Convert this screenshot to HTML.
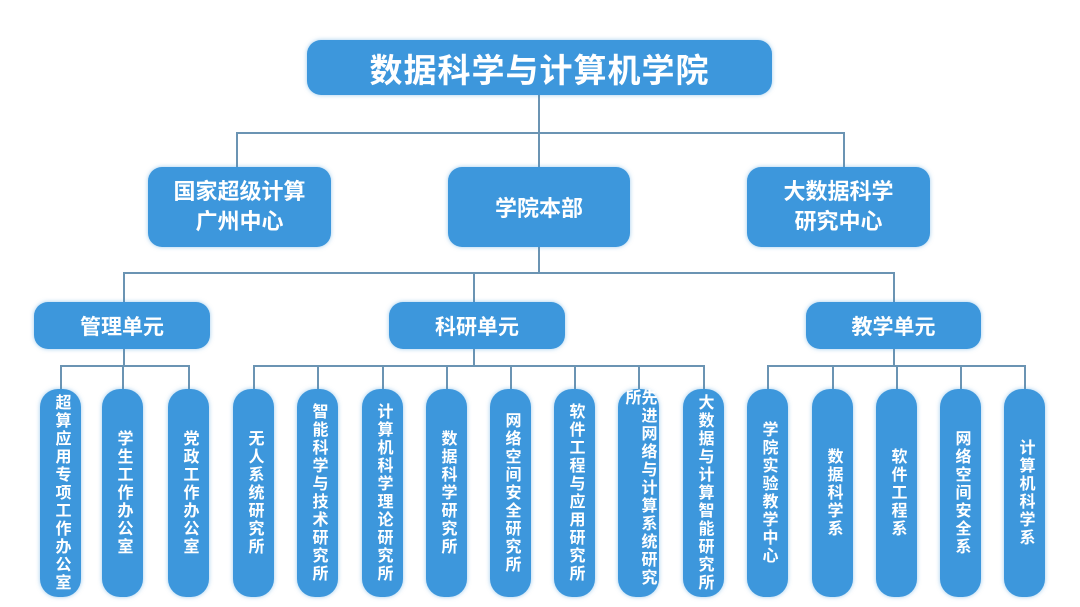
<!DOCTYPE html>
<html><head><meta charset="utf-8"><style>
body{margin:0;width:1080px;height:607px;background:#fff;position:relative;overflow:hidden;font-family:"Liberation Sans","Noto Sans CJK SC",sans-serif;}
.b{position:absolute;background:#3d97dc;color:#fff;font-weight:bold;display:flex;align-items:center;justify-content:center;text-align:center;border-radius:14px;box-shadow:0 0 4px rgba(61,151,220,.5);}
.p{position:absolute;top:389px;height:208px;width:41px;background:#3d97dc;color:#fff;font-weight:bold;border-radius:18px;display:flex;align-items:center;justify-content:center;box-shadow:0 0 4px rgba(61,151,220,.5);}
.p span{writing-mode:vertical-rl;text-orientation:upright;font-size:16px;letter-spacing:2px;line-height:1;}
.l{position:absolute;background:#6b94b3;}
</style></head><body>
<div class="l" style="left:538px;top:95px;width:2px;height:72px"></div>
<div class="l" style="left:236px;top:132px;width:609px;height:2px"></div>
<div class="l" style="left:236px;top:132px;width:2px;height:35px"></div>
<div class="l" style="left:843px;top:132px;width:2px;height:35px"></div>
<div class="l" style="left:538px;top:247px;width:2px;height:27px"></div>
<div class="l" style="left:123px;top:272px;width:772px;height:2px"></div>
<div class="l" style="left:123px;top:272px;width:2px;height:30px"></div>
<div class="l" style="left:473px;top:272px;width:2px;height:30px"></div>
<div class="l" style="left:893px;top:272px;width:2px;height:30px"></div>
<div class="l" style="left:123px;top:349px;width:2px;height:18px"></div>
<div class="l" style="left:473px;top:349px;width:2px;height:18px"></div>
<div class="l" style="left:893px;top:349px;width:2px;height:18px"></div>
<div class="l" style="left:60px;top:365px;width:129px;height:2px"></div>
<div class="l" style="left:253px;top:365px;width:452px;height:2px"></div>
<div class="l" style="left:574px;top:365px;width:0;height:0"></div>
<div class="l" style="left:767px;top:365px;width:258px;height:2px"></div>

<div class="b" style="left:307px;top:40px;width:465px;height:55px;font-size:33px;letter-spacing:1px">数据科学与计算机学院</div>
<div class="b" style="left:148px;top:167px;width:183px;height:80px;font-size:22px;line-height:30px">国家超级计算<br>广州中心</div>
<div class="b" style="left:448px;top:167px;width:182px;height:80px;font-size:22px">学院本部</div>
<div class="b" style="left:747px;top:167px;width:183px;height:80px;font-size:22px;line-height:30px">大数据科学<br>研究中心</div>
<div class="b" style="left:34px;top:302px;width:176px;height:47px;font-size:21px">管理单元</div>
<div class="b" style="left:389px;top:302px;width:176px;height:47px;font-size:21px">科研单元</div>
<div class="b" style="left:806px;top:302px;width:175px;height:47px;font-size:21px">教学单元</div>

<div class="l" style="left:60px;top:365px;width:2px;height:24px"></div>
<div class="l" style="left:122px;top:365px;width:2px;height:24px"></div>
<div class="l" style="left:188px;top:365px;width:2px;height:24px"></div>
<div class="l" style="left:253px;top:365px;width:2px;height:24px"></div>
<div class="l" style="left:317px;top:365px;width:2px;height:24px"></div>
<div class="l" style="left:382px;top:365px;width:2px;height:24px"></div>
<div class="l" style="left:446px;top:365px;width:2px;height:24px"></div>
<div class="l" style="left:510px;top:365px;width:2px;height:24px"></div>
<div class="l" style="left:574px;top:365px;width:2px;height:24px"></div>
<div class="l" style="left:638px;top:365px;width:2px;height:24px"></div>
<div class="l" style="left:703px;top:365px;width:2px;height:24px"></div>
<div class="l" style="left:767px;top:365px;width:2px;height:24px"></div>
<div class="l" style="left:832px;top:365px;width:2px;height:24px"></div>
<div class="l" style="left:896px;top:365px;width:2px;height:24px"></div>
<div class="l" style="left:960px;top:365px;width:2px;height:24px"></div>
<div class="l" style="left:1024px;top:365px;width:2px;height:24px"></div>

<div class="p" style="left:40px"><span>超算应用专项工作办公室</span></div>
<div class="p" style="left:102px"><span>学生工作办公室</span></div>
<div class="p" style="left:168px"><span>党政工作办公室</span></div>
<div class="p" style="left:233px"><span>无人系统研究所</span></div>
<div class="p" style="left:297px"><span>智能科学与技术研究所</span></div>
<div class="p" style="left:362px"><span>计算机科学理论研究所</span></div>
<div class="p" style="left:426px"><span>数据科学研究所</span></div>
<div class="p" style="left:490px"><span>网络空间安全研究所</span></div>
<div class="p" style="left:554px"><span>软件工程与应用研究所</span></div>
<div class="p" style="left:618px"><span>先进网络与计算系统研究所</span></div>
<div class="p" style="left:683px"><span>大数据与计算智能研究所</span></div>
<div class="p" style="left:747px"><span>学院实验教学中心</span></div>
<div class="p" style="left:812px"><span>数据科学系</span></div>
<div class="p" style="left:876px"><span>软件工程系</span></div>
<div class="p" style="left:940px"><span>网络空间安全系</span></div>
<div class="p" style="left:1004px"><span>计算机科学系</span></div>
</body></html>
